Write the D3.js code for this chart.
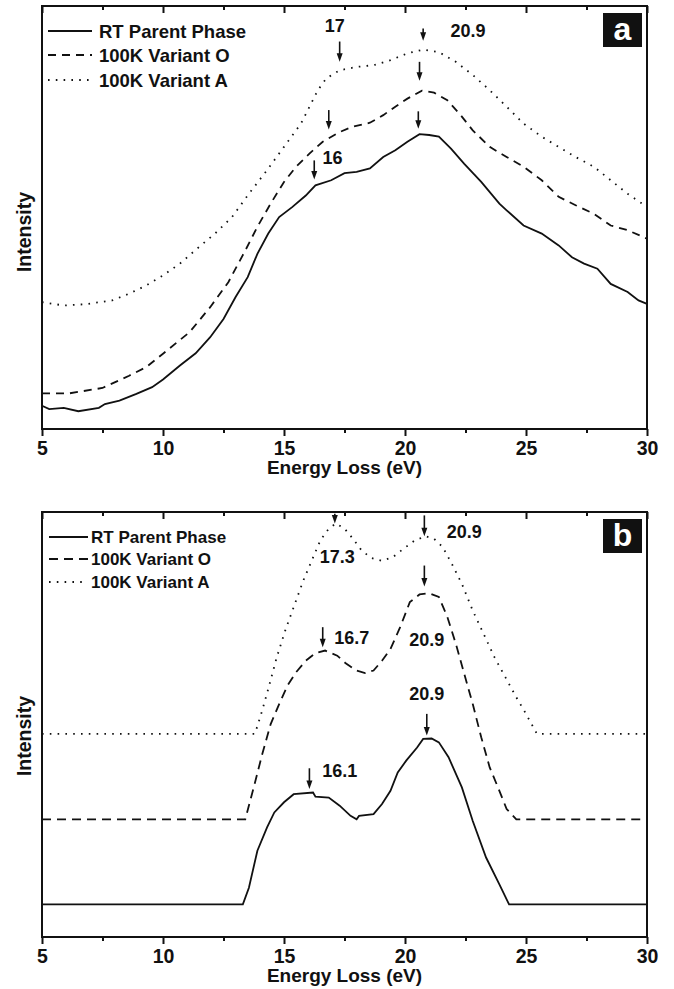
<!DOCTYPE html>
<html>
<head>
<meta charset="utf-8">
<title>EELS low-loss spectra</title>
<style>
  body { margin: 0; background: #fff; }
  text { font-family: "Liberation Sans", Arial, sans-serif; font-weight: bold; fill: #111; }
</style>
</head>
<body>
<script src="https://cdn.jsdelivr.net/npm/d3@7/dist/d3.min.js"></script>
<script>
const width = 674, height = 989;

const xTicks = [5, 10, 15, 20, 25, 30];
const xMinor = [7.5, 12.5, 17.5, 22.5, 27.5];
const names = ["RT Parent Phase", "100K Variant O", "100K Variant A"];

// panel a : [energy loss (eV), intensity (arb.)]
const aParent = [[5,5.5],[5.3,4.7],[5.9,5.0],[6.5,4.2],[7.35,5.0],[7.6,5.9],[8.2,6.7],[8.9,8.3],[9.55,9.9],[10,11.7],[10.7,15.0],[11.35,17.9],[11.95,21.7],[12.5,26.0],[13,31.2],[13.5,35.9],[13.9,41.4],[14.35,46.2],[14.8,50.1],[15.35,52.5],[15.9,55.2],[16.3,57.6],[16.95,58.8],[17.5,60.5],[18,60.8],[18.55,61.6],[19.1,64.3],[19.6,65.9],[20.1,67.9],[20.6,69.7],[21,69.5],[21.4,69.1],[21.9,66.3],[22.45,62.7],[23.15,58.4],[23.9,53.3],[24.2,51.7],[24.9,48.1],[25.65,46.2],[26.35,43.4],[26.9,40.6],[27.4,39.1],[27.95,37.9],[28.5,34.3],[29.2,32.4],[29.65,30.4],[30,29.6]];
const aVariantO = [[5,8.4],[6.1,8.4],[7.5,9.7],[8.6,12.6],[9.3,14.6],[10,17.8],[11.1,22.9],[11.95,28.8],[12.7,34.7],[13.4,42.2],[13.9,47.8],[14.45,53.3],[15,58.4],[15.5,62.0],[16.05,65.1],[16.6,67.9],[17.3,70.2],[17.8,71.4],[18.55,72.4],[19.1,74.2],[19.6,76.2],[20.1,78.1],[20.7,80.0],[21.2,79.5],[21.75,77.7],[22.3,74.2],[22.8,70.6],[23.5,66.7],[24.2,64.3],[24.9,62.0],[25.65,58.8],[26.35,54.9],[27.05,52.9],[27.8,50.9],[28.5,48.1],[29.2,47.0],[30,45.0]];
const aVariantA = [[5,30.0],[5.9,29.2],[6.8,29.5],[7.9,30.4],[8.6,32.0],[9.3,33.9],[10,36.3],[10.7,39.1],[11.4,42.6],[12.15,46.2],[12.85,50.1],[13.55,55.6],[14.3,61.2],[15,66.7],[15.7,72.2],[16.4,80.1],[16.75,82.9],[17.3,84.8],[18,85.6],[18.7,86.0],[19.4,87.2],[20.1,88.8],[20.75,89.7],[21.4,89.1],[22.1,86.8],[22.8,83.7],[23.5,80.1],[24.2,76.2],[24.9,72.2],[25.65,69.1],[26.35,66.7],[27.05,64.3],[27.8,62.0],[28.5,58.8],[29.2,55.6],[30,52.5]];

// panel b
const bParent = [[5,7.7],[13.3,7.7],[13.55,11.6],[13.9,20.3],[14.3,25.8],[14.6,29.3],[15,31.7],[15.4,33.6],[16.2,34.0],[16.3,33.0],[16.85,32.8],[17.3,30.9],[17.75,28.5],[18,27.7],[18.1,28.5],[18.7,28.9],[19.05,31.3],[19.4,34.4],[19.7,38.7],[20.05,41.5],[20.5,44.6],[20.75,46.6],[21.1,46.7],[21.4,45.8],[21.8,42.3],[22.35,35.2],[22.8,27.3],[23.35,18.7],[23.9,12.4],[24.3,7.7],[30,7.7]];
const bVariantO = [[5,27.7],[13.4,27.7],[13.75,35.2],[14.1,43.0],[14.45,50.1],[14.8,54.8],[15.15,59.2],[15.5,62.3],[15.9,65.0],[16.3,66.8],[16.7,67.4],[17.2,66.2],[17.55,64.4],[18,62.7],[18.35,62.1],[18.7,62.7],[19.05,65.0],[19.4,67.8],[19.8,72.9],[20.2,78.8],[20.6,80.6],[21,80.9],[21.4,80.0],[21.75,75.3],[22.1,69.0],[22.45,61.9],[22.8,54.8],[23.15,47.0],[23.5,39.9],[23.9,34.4],[24.2,30.1],[24.6,27.7],[30,27.7]];
const bVariantA = [[5,47.8],[13.8,47.8],[14.1,53.3],[14.35,58.4],[14.7,65.8],[15.05,72.1],[15.45,78.4],[15.8,83.9],[16.15,88.6],[16.5,93.3],[16.85,96.1],[17.15,97.3],[17.5,96.1],[17.85,93.7],[18.2,91.0],[18.6,89.2],[19.05,88.5],[19.5,89.4],[19.95,91.4],[20.4,93.3],[20.85,94.3],[21.2,93.7],[21.55,91.8],[21.9,88.2],[22.35,83.1],[22.8,76.8],[23.25,71.3],[23.7,65.8],[24.15,61.1],[24.6,56.4],[25,52.5],[25.45,47.8],[30,47.8]];

// peak markers: [energy, from, to] and labels: [text, energy, intensity]
const aArrows = [[17.3,91.6,86.8],[20.75,94.7,91.8],[20.6,86.8,82.3],[16.85,75.4,70.8],[20.55,75.1,71.0],[16.25,63.5,59.0]];
const aLabels = [["17",17.1,95.3],["20.9",22.6,94.2],["16",17.0,64.1]];
const bArrows = [[17.1,99.6,97.3],[20.8,99.2,94.3],[20.8,87.4,82.5],[16.6,72.9,68.2],[20.9,52.5,47.4],[16.05,39.7,34.8]];
const bLabels = [["17.3",17.2,89.6],["20.9",22.45,95.3],["16.7",17.8,70.5],["20.9",20.9,70.1],["20.9",20.9,57.2],["16.1",17.3,39.1]];

const svg = d3.select("body").append("svg")
  .attr("width", width)
  .attr("height", height);

const x = d3.scaleLinear().domain([5, 30]).range([42, 647]);

function drawPanel(p) {
  const y = d3.scaleLinear().domain([0, 100]).range([p.bottom, p.top]);
  const g = svg.append("g");
  const dashes = [null, p.dash, "1.6,6.2"];

  const line = d3.line().x(d => x(d[0])).y(d => y(d[1]));

  p.series.forEach((s, i) => {
    g.append("path")
      .attr("d", line(s))
      .attr("fill", "none")
      .attr("stroke", "#111")
      .attr("stroke-width", 1.8)
      .attr("stroke-dasharray", dashes[i]);
  });

  // frame
  g.append("rect")
    .attr("x", x(5)).attr("y", p.top)
    .attr("width", x(30) - x(5)).attr("height", p.bottom - p.top)
    .attr("fill", "none").attr("stroke", "#111").attr("stroke-width", 2);

  // bottom axis
  const bx = g.append("g").attr("transform", `translate(0,${p.bottom})`)
    .call(d3.axisBottom(x).tickValues(xTicks).tickSize(7).tickPadding(5).tickFormat(d3.format("d")));
  bx.select(".domain").remove();
  bx.selectAll("line").attr("stroke", "#111").attr("stroke-width", 2);
  bx.selectAll("text").attr("font-size", 19.5).attr("font-family", null).attr("fill", "#111");
  const bm = g.append("g").attr("transform", `translate(0,${p.bottom})`)
    .call(d3.axisBottom(x).tickValues(xMinor).tickSize(4).tickFormat(""));
  bm.select(".domain").remove();
  bm.selectAll("line").attr("stroke", "#111").attr("stroke-width", 2);

  // mirrored top ticks, pointing in
  [[xTicks, 7], [xMinor, 4]].forEach(([tv, len]) => {
    const t = g.append("g").attr("transform", `translate(0,${p.top})`)
      .call(d3.axisBottom(x).tickValues(tv).tickSize(len).tickFormat(""));
    t.select(".domain").remove();
    t.selectAll("line").attr("stroke", "#111").attr("stroke-width", 2);
  });

  g.append("text")
    .attr("x", (x(5) + x(30)) / 2).attr("y", p.bottom + 45)
    .attr("text-anchor", "middle").attr("font-size", 19)
    .text("Energy Loss (eV)");

  g.append("text")
    .attr("transform", `translate(31,${p.labelY}) rotate(-90)`)
    .attr("text-anchor", "middle").attr("font-size", 19.5)
    .text("Intensity");

  // legend
  names.forEach((n, i) => {
    const ly = p.legY[i];
    g.append("line")
      .attr("x1", p.legX[0]).attr("x2", p.legX[1])
      .attr("y1", ly).attr("y2", ly)
      .attr("stroke", "#111").attr("stroke-width", 1.8)
      .attr("stroke-dasharray", dashes[i]);
    g.append("text")
      .attr("x", p.legX[2]).attr("y", ly + p.legFont * 0.36)
      .attr("font-size", p.legFont)
      .text(n);
  });

  // arrows
  p.arrows.forEach(([e, y1, y2]) => {
    const ax = x(e), ya = y(y1), yb = y(y2);
    g.append("line")
      .attr("x1", ax).attr("x2", ax).attr("y1", ya).attr("y2", yb - 6)
      .attr("stroke", "#111").attr("stroke-width", 1.6);
    g.append("path")
      .attr("d", `M${ax - 3},${yb - 8.5} L${ax + 3},${yb - 8.5} L${ax},${yb} Z`)
      .attr("fill", "#111");
  });

  p.labels.forEach(([t, e, v]) => {
    g.append("text")
      .attr("x", x(e)).attr("y", y(v) + 6.5)
      .attr("text-anchor", "middle").attr("font-size", 18)
      .text(t);
  });

  // panel letter
  g.append("rect")
    .attr("x", 603).attr("y", p.top + 7).attr("width", 39).attr("height", 34)
    .attr("fill", "#111");
  g.append("text")
    .attr("x", 622.5).attr("y", p.top + 34)
    .attr("text-anchor", "middle")
    .attr("font-family", "'Liberation Serif','DejaVu Serif',serif")
    .attr("font-weight", "normal")
    .attr("font-size", 32)
    .style("fill", "#fff")
    .text(p.letter);
}

drawPanel({
  top: 6, bottom: 429, letter: "a", labelY: 232, dash: "8,6",
  series: [aParent, aVariantO, aVariantA],
  arrows: aArrows, labels: aLabels,
  legY: [31, 55, 80], legX: [48, 92, 99], legFont: 18.5
});

drawPanel({
  top: 512, bottom: 937, letter: "b", labelY: 736, dash: "9,6",
  series: [bParent, bVariantO, bVariantA],
  arrows: bArrows, labels: bLabels,
  legY: [537, 559, 582], legX: [49, 88, 91], legFont: 17
});
</script>
</body>
</html>
